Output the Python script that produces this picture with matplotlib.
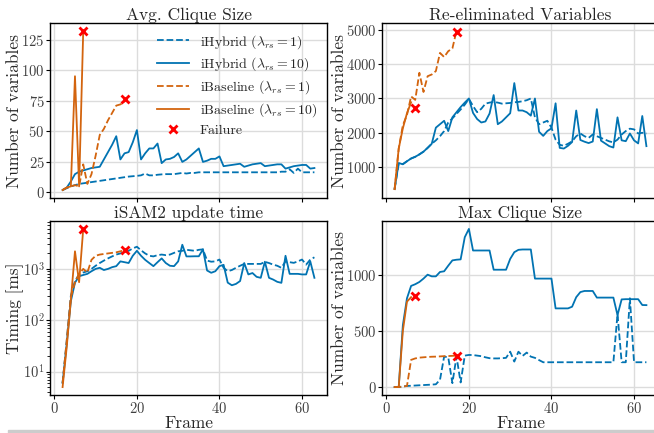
import numpy as np
import matplotlib
matplotlib.use("Agg")
import matplotlib.pyplot as plt
from matplotlib.patches import Rectangle

plt.rcParams['font.family'] = 'serif'
plt.rcParams['font.serif'] = ['cmr10', 'DejaVu Serif']
plt.rcParams['mathtext.fontset'] = 'cm'
plt.rcParams['axes.formatter.use_mathtext'] = True
plt.rcParams['axes.unicode_minus'] = False

BLUE = '#0173B2'
ORANGE = '#D3640E'
TEXT = '#262626'

# all series start at frame 2
FIRST_FRAME = 2

# Avg. clique size
avg_hyb1 = [2, 3.5, 5, 6, 7, 7.5, 8, 8.5, 9, 9.5, 10, 10.5, 11, 11.5, 12, 12.5,
            13, 13.3, 13.6, 14, 15.5, 14, 14, 14.5, 14.8, 15, 15, 15, 15.5, 16,
            15.5, 16, 16, 16.5, 16.5, 16.5, 16.5, 16.5, 16.5, 16.5, 16.5, 16.5,
            16.5, 16.5, 16.5, 16.5, 16.5, 16.5, 16.5, 16.5, 16.5, 16.5, 16.5, 17,
            17, 19, 16, 19.5, 16.5, 16.5, 16.5, 16.5]
avg_hyb10 = [2, 4, 9, 15, 17, 18, 19, 20, 20.5, 21, 27, 33, 39, 46, 27, 32, 33,
             41, 51, 27, 32, 36, 36, 40, 24, 27, 27.5, 29, 32, 25, 27, 30, 33, 36,
             25, 26, 27.5, 27.5, 29.5, 21.5, 22, 22.5, 23, 23.5, 21, 22, 23, 23.5,
             24, 21.5, 22, 22.5, 23, 23, 19.5, 20.5, 21.5, 22, 22.5, 22.5, 19.5, 20]
avg_base1 = [2, 4, 5, 6, 5, 23, 7, 15, 30, 47, 52, 59, 65, 71, 72, 74]
avg_base10 = [2, 4, 5, 95, 5, 132]
avg_fail_x = [7, 17]
avg_fail_y = [132, 76]

# Re-eliminated variables
re_hyb1 = [360, 1100, 1090, 1170, 1250, 1300, 1370, 1450, 1560, 1680, 1780, 1900,
           2050, 2300, 2420, 2550, 2680, 2820, 2990, 2780, 2600, 2700, 2850, 2880,
           2900, 2880, 2850, 2860, 2870, 2890, 2900, 2920, 2950, 3000, 2450, 2250,
           2300, 2350, 2150, 1800, 1650, 1620, 1680, 1750, 1900, 1980, 1900, 1850,
           1950, 1900, 1850, 1800, 1750, 1720, 1800, 1950, 2050, 2120, 2100, 1980,
           2000, 1980]
re_hyb10 = [360, 1120, 1080, 1170, 1250, 1300, 1370, 1450, 1560, 1680, 2150, 2250,
            2350, 2050, 2450, 2600, 2750, 2880, 3000, 2580, 2400, 2300, 2330, 2560,
            3100, 2250, 2330, 2450, 2570, 3450, 2650, 2650, 2600, 2500, 3000, 2030,
            1910, 2050, 2130, 2860, 1560, 1540, 1620, 1730, 2650, 1790, 1740, 1700,
            1745, 2690, 1770, 1690, 1610, 1570, 2450, 1780, 1755, 1980, 1780, 1690,
            2490, 1610]
re_base1 = [330, 1540, 2220, 2520, 3060, 2960, 3750, 3190, 3650, 3700, 3800, 4330,
            4210, 4380, 4460, 4970]
re_base10 = [360, 1540, 2130, 2570, 2890]
re_fail_x = [7, 17]
re_fail_y = [2716, 4950]

# iSAM2 update time [ms]
t_hyb1 = [6, 40, 300, 580, 780, 850, 900, 1000, 1150, 1300, 1450, 1600, 1750,
          1900, 2000, 2100, 2250, 2500, 2700, 2300, 2000, 1800, 1750, 1850, 1900,
          1850, 1900, 2050, 2200, 2250, 2350, 2300, 2250, 2350, 2400, 1450, 1380,
          1400, 1520, 1050, 900, 950, 1050, 1150, 1250, 1250, 1250, 1250, 1250,
          1370, 1300, 1210, 1150, 1050, 1400, 1350, 1310, 1400, 1520, 1210, 1520,
          1680]
t_hyb10 = [6, 35, 235, 540, 720, 760, 800, 900, 1000, 1050, 950, 1000, 1080, 1130,
           1400, 1350, 1300, 1800, 2250, 1800, 1500, 1300, 1130, 1350, 1600, 1300,
           1150, 1130, 1400, 2950, 1750, 1750, 1760, 1760, 2400, 930, 840, 900,
           1130, 1200, 540, 480, 510, 580, 1300, 780, 830, 700, 670, 1380, 670,
           620, 560, 535, 1800, 800, 800, 800, 780, 780, 1400, 670]
t_base1 = [6, 40, 280, 550, 800, 1000, 850, 1500, 1800, 1900, 1950, 2000, 2050,
           2100, 2200, 2300]
t_base10 = [5, 30, 250, 2200, 550, 6000]
t_fail_x = [7, 17]
t_fail_y = [5900, 2350]

# Max clique size
mx_hyb1 = [0, 0, 5, 10, 12, 14, 16, 18, 20, 22, 25, 65, 271, 265, 35, 271, 41,
           280, 286, 285, 280, 275, 265, 257, 255, 255, 257, 260, 315, 227, 315,
           277, 307, 271, 260, 240, 221, 221, 221, 221, 221, 221, 221, 221, 221,
           221, 221, 221, 221, 221, 221, 221, 221, 221, 650, 221, 221, 790, 221,
           221, 221, 221]
mx_hyb10 = [0, 0, 550, 790, 900, 915, 935, 965, 1000, 985, 985, 1024, 1030, 1080,
            1127, 1133, 1136, 1333, 1407, 1215, 1215, 1215, 1215, 1215, 1044, 1044,
            1044, 1044, 1140, 1200, 1221, 1224, 1224, 1224, 965, 965, 965, 965, 965,
            700, 700, 700, 700, 715, 800, 845, 855, 855, 855, 796, 796, 796, 796,
            796, 640, 780, 782, 782, 782, 782, 730, 729]
mx_base1 = [0, 0, 5, 10, 242, 255, 262, 265, 268, 270, 271, 273, 275, 276, 278, 280]
mx_base10 = [0, 0, 500, 760, 800]
mx_fail_x = [7, 17]
mx_fail_y = [810, 278]


def frames(vals):
    return list(range(FIRST_FRAME, FIRST_FRAME + len(vals)))


fig = plt.figure(figsize=(6.54, 4.33), dpi=100)
W, H = 654, 433


def add_ax(l, t, r, b, sharex=None):
    return fig.add_axes([l / W, 1 - b / H, (r - l) / W, (b - t) / H], sharex=sharex)


ax1 = add_ax(50, 23, 327, 198)
ax2 = add_ax(382, 23, 659, 198)
ax3 = add_ax(50, 221, 327, 395, sharex=ax1)
ax4 = add_ax(382, 221, 659, 395, sharex=ax2)

panels = [
    (ax1, avg_hyb1, avg_hyb10, avg_base1, avg_base10, avg_fail_x, avg_fail_y,
     'Avg. Clique Size', 'Number of variables'),
    (ax2, re_hyb1, re_hyb10, re_base1, re_base10, re_fail_x, re_fail_y,
     'Re-eliminated Variables', 'Number of variables'),
    (ax3, t_hyb1, t_hyb10, t_base1, t_base10, t_fail_x, t_fail_y,
     'iSAM2 update time', 'Timing [ms]'),
    (ax4, mx_hyb1, mx_hyb10, mx_base1, mx_base10, mx_fail_x, mx_fail_y,
     'Max Clique Size', 'Number of variables'),
]

for ax, h1, h10, b1, b10, fx, fy, title, ylabel in panels:
    ax.plot(frames(h1), h1, '--', color=BLUE, lw=1.3, label=r'iHybrid ($\lambda_{rs} = 1$)')
    ax.plot(frames(h10), h10, '-', color=BLUE, lw=1.3, label=r'iHybrid ($\lambda_{rs} = 10$)')
    ax.plot(frames(b1), b1, '--', color=ORANGE, lw=1.3, label=r'iBaseline ($\lambda_{rs} = 1$)')
    ax.plot(frames(b10), b10, '-', color=ORANGE, lw=1.3, label=r'iBaseline ($\lambda_{rs} = 10$)')
    ax.plot(fx, fy, 'x', color='red', ms=6, mew=2, ls='none', label='Failure')
    ax.set_title(title, fontsize=12.5, pad=2, color=TEXT)
    ax.set_ylabel(ylabel, fontsize=12.5, labelpad=-1, color=TEXT)
    ax.grid(True, color='#dcdcdc', lw=1)
    ax.set_axisbelow(True)
    ax.tick_params(labelsize=10.5, length=3, pad=1, labelcolor='#404040')
    for s in ax.spines.values():
        s.set_color('black')
        s.set_linewidth(1)

ax3.set_yscale('log')
ax1.set_xticks([0, 20, 40, 60])
ax2.set_xticks([0, 20, 40, 60])
ax1.tick_params(labelbottom=False)
ax2.tick_params(labelbottom=False)
ax3.set_xlabel('Frame', fontsize=12.5, labelpad=0, color=TEXT)
ax4.set_xlabel('Frame', fontsize=12.5, labelpad=0, color=TEXT)
ax1.set_yticks([0, 25, 50, 75, 100, 125])
ax2.set_yticks([1000, 2000, 3000, 4000, 5000])
ax4.set_yticks([0, 500, 1000])

ax1.legend(loc='upper right', frameon=False, fontsize=10, handlelength=2.3,
           labelspacing=0.36, borderaxespad=0.3, labelcolor=TEXT)

fig.patches.append(Rectangle((8 / W, 0), 1, 3 / H, transform=fig.transFigure,
                             color='#cccccc', zorder=0))

fig.savefig('out.png', dpi=100)
